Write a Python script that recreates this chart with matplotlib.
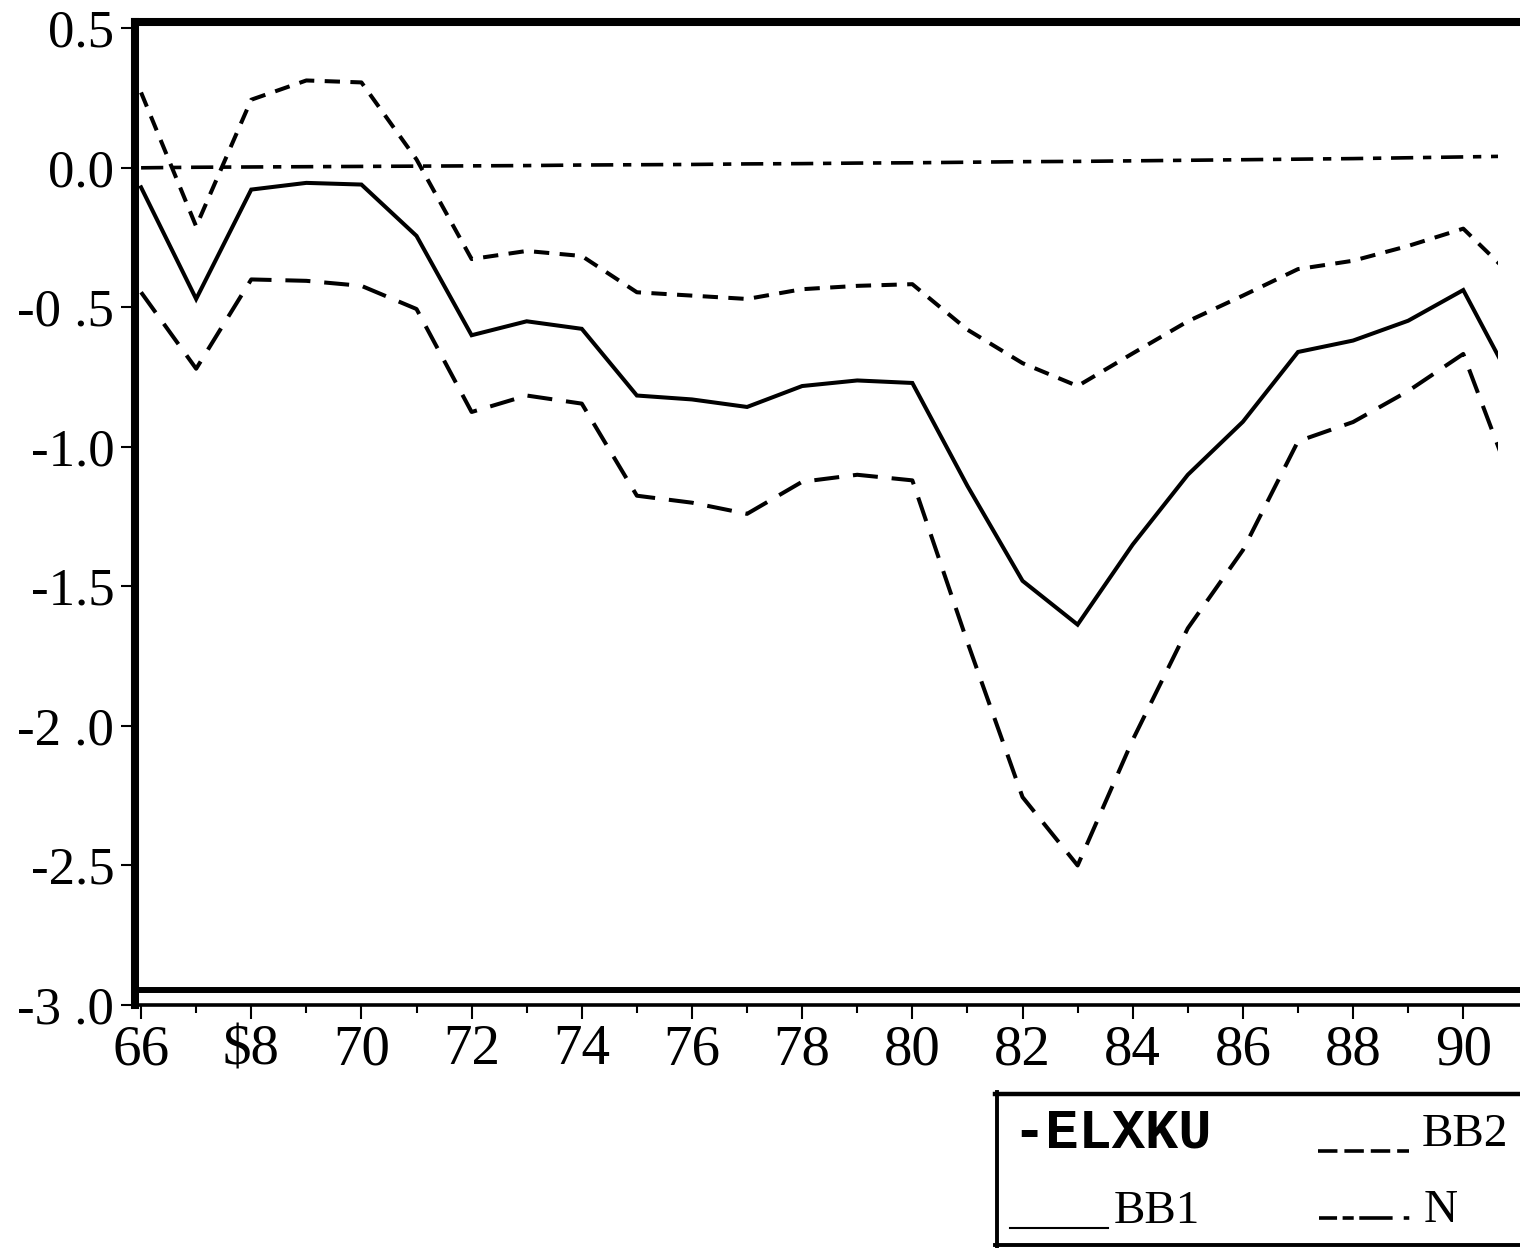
import matplotlib
matplotlib.use("Agg")
import matplotlib.pyplot as plt
from matplotlib.patches import Rectangle
from matplotlib.lines import Line2D

plt.rcParams['lines.scale_dashes'] = False

# ---- data ----
years = list(range(66, 92))
elxku = [-0.070, -0.470, -0.078, -0.054, -0.060, -0.244, -0.600, -0.550, -0.577,
         -0.816, -0.830, -0.857, -0.782, -0.762, -0.771, -1.140, -1.480, -1.637,
         -1.350, -1.100, -0.910, -0.660, -0.619, -0.548, -0.438, -0.810]
bb1 = [-0.446, -0.720, -0.400, -0.405, -0.423, -0.506, -0.875, -0.816, -0.845,
       -1.175, -1.200, -1.240, -1.125, -1.100, -1.120, -1.700, -2.255, -2.500,
       -2.050, -1.650, -1.370, -0.980, -0.911, -0.800, -0.667, -1.190]
bb2 = [0.270, -0.210, 0.244, 0.313, 0.306, 0.030, -0.327, -0.298, -0.316,
       -0.446, -0.458, -0.470, -0.435, -0.423, -0.417, -0.580, -0.700, -0.782,
       -0.665, -0.550, -0.458, -0.363, -0.333, -0.280, -0.218, -0.410]
n_line = [0.000, 0.002, 0.003, 0.004, 0.005, 0.006, 0.007, 0.008, 0.010,
          0.011, 0.012, 0.014, 0.015, 0.017, 0.018, 0.020, 0.022, 0.023,
          0.025, 0.027, 0.029, 0.031, 0.033, 0.036, 0.039, 0.042]

x_major = [66, 68, 70, 72, 74, 76, 78, 80, 82, 84, 86, 88, 90]
x_labels = ['66', r'\$8', '70', '72', '74', '76', '78', '80', '82', '84', '86', '88', '90']
x_minor = [67, 69, 71, 73, 75, 77, 79, 81, 83, 85, 87, 89]
y_ticks = [0.5, 0.0, -0.5, -1.0, -1.5, -2.0, -2.5, -3.0]
y_labels = ['0.5', '0.0', '-0 .5', '-1.0', '-1.5', '-2 .0', '-2.5', '-3 .0']

W, H = 1520, 1248
def fx(x):
    return x / W
def fy(y):
    return 1 - y / H

fig = plt.figure(figsize=(15.2, 12.48), dpi=100)
ax = fig.add_axes([fx(135), fy(1005), 1 - fx(135), (1005 - 22) / H])
ax.set_xlim(65.89, 91.03)
ax.set_ylim(-3.0, 0.5225)

clip = Rectangle((65.89, -3.0), 90.63 - 65.89, 3.6, transform=ax.transData)

lw = 2.9
l1, = ax.plot(years, elxku, color='black', lw=lw, solid_joinstyle='miter')
l2, = ax.plot(years, bb1, color='black', lw=lw, linestyle=(0, (18, 10)))
l3, = ax.plot(years, bb2, color='black', lw=lw, linestyle=(0, (11, 7.5)))
l4, = ax.plot(years, n_line, color='black', lw=lw * 0.9,
              linestyle=(0, (16, 7, 6, 7)))
for ln in (l1, l2, l3, l4):
    ln.set_clip_path(clip)

# frame
ax.spines['right'].set_visible(False)
ax.spines['left'].set_linewidth(5.8)
ax.spines['top'].set_linewidth(5.8)
ax.spines['bottom'].set_linewidth(2.6)
ax.axhline(-2.948, color='black', lw=4.3)

ax.set_xticks(x_major)
ax.set_xticklabels(x_labels)
ax.set_xticks(x_minor, minor=True)
ax.set_yticks(y_ticks)
ax.set_yticklabels(y_labels)
ax.tick_params(axis='x', which='major', direction='out', length=10, width=1.5,
               pad=4, labelsize=41)
ax.tick_params(axis='x', which='minor', direction='out', length=6, width=1.5)
ax.tick_params(axis='y', which='major', direction='out', length=10, width=1.5,
               pad=5, labelsize=38)
for lab in ax.get_xticklabels() + ax.get_yticklabels():
    lab.set_fontfamily('Liberation Serif')

# legend box (drawn by hand)
def fline(xs, ys, **kw):
    fig.add_artist(Line2D([fx(v) for v in xs], [fy(v) for v in ys],
                          transform=fig.transFigure, color='black', **kw))

fline([995, 1520], [1094, 1094], lw=3.2)
fline([997, 997], [1092, 1247], lw=2.8)
fline([995, 1520], [1245, 1245], lw=2.8)
fline([1318, 1409], [1151, 1151], lw=2.6, linestyle=(0, (14, 5)))
fline([1010, 1108], [1228, 1228], lw=1.5)
fline([1319, 1411], [1218, 1218], lw=2.6, linestyle=(0, (13, 4, 8, 4, 24, 8, 4, 8)))

fig.text(fx(1012), fy(1147), '-ELXKU', family='Liberation Mono', weight='bold',
         fontsize=40, va='baseline', ha='left')
fig.text(fx(1422), fy(1146), 'BB2', family='Liberation Serif', fontsize=34,
         va='baseline', ha='left')
fig.text(fx(1114), fy(1223), 'BB1', family='Liberation Serif', fontsize=34,
         va='baseline', ha='left')
fig.text(fx(1424), fy(1222), 'N', family='Liberation Serif', fontsize=34,
         va='baseline', ha='left')

fig.savefig('out.png', dpi=100)
